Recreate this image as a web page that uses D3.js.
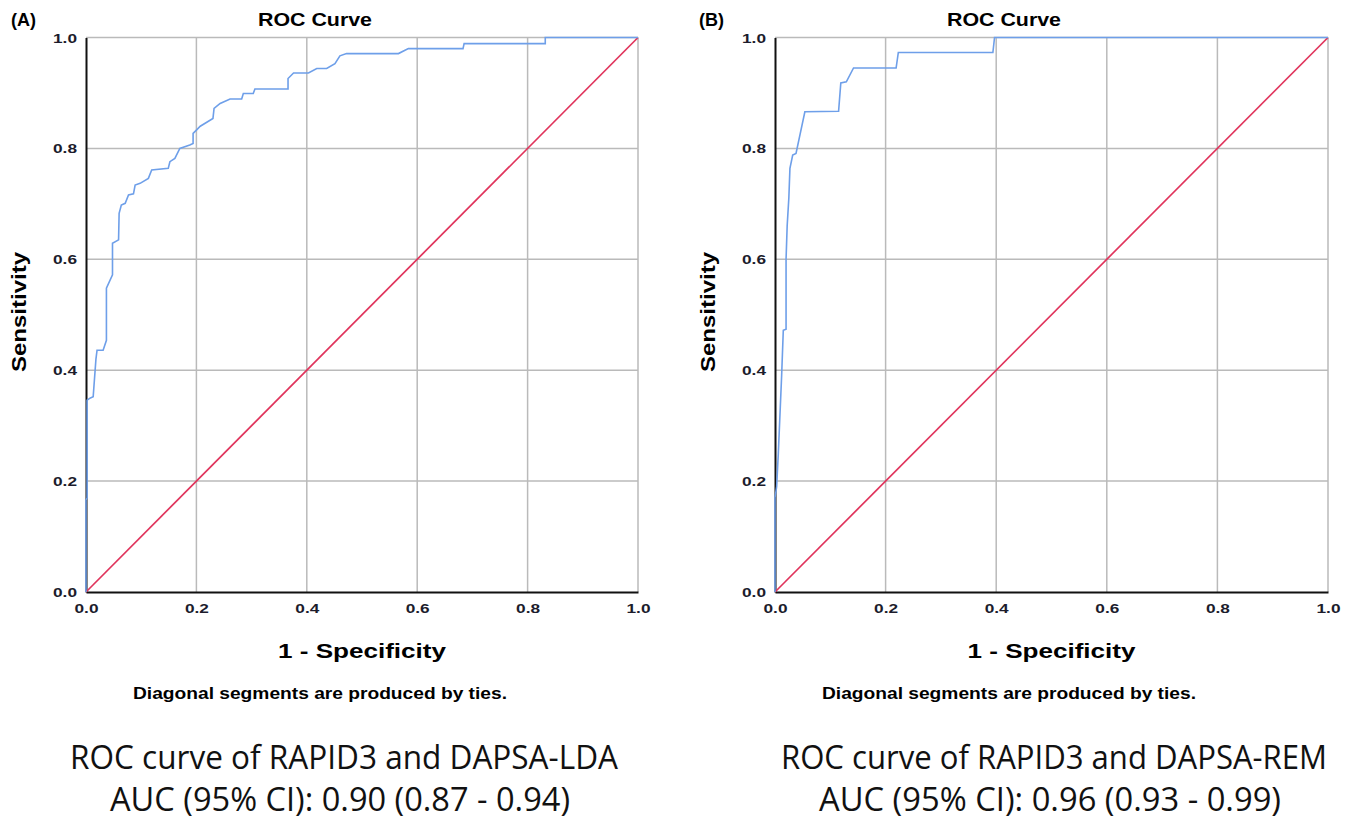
<!DOCTYPE html>
<html>
<head>
<meta charset="utf-8">
<script src="https://cdn.jsdelivr.net/npm/d3@7"></script>
<style>
  body { margin: 0; background: #fff; }
  svg { display: block; }
</style>
</head>
<body>
<div id="chart"></div>
<script>
// ROC points: 1 - specificity and sensitivity
const fprA = [0, 0, 0.002, 0.002, 0.008, 0.013, 0.018, 0.02, 0.031, 0.037, 0.037, 0.048, 0.048, 0.059, 0.06, 0.064, 0.071, 0.077, 0.086, 0.089, 0.098, 0.113, 0.119, 0.149, 0.152, 0.161, 0.17, 0.188, 0.194, 0.194, 0.2, 0.207, 0.23, 0.232, 0.243, 0.261, 0.282, 0.285, 0.303, 0.306, 0.366, 0.366, 0.376, 0.403, 0.418, 0.436, 0.451, 0.46, 0.472, 0.566, 0.584, 0.683, 0.685, 0.832, 0.832, 1];
const tprA = [0, 0.166, 0.17, 0.346, 0.35, 0.352, 0.42, 0.436, 0.436, 0.454, 0.548, 0.572, 0.629, 0.635, 0.683, 0.698, 0.701, 0.716, 0.718, 0.734, 0.737, 0.746, 0.761, 0.764, 0.776, 0.782, 0.8, 0.806, 0.809, 0.827, 0.833, 0.84, 0.854, 0.872, 0.881, 0.889, 0.889, 0.899, 0.899, 0.907, 0.907, 0.926, 0.936, 0.936, 0.944, 0.944, 0.953, 0.967, 0.971, 0.971, 0.98, 0.98, 0.989, 0.989, 1, 1];

const fprB = [0, 0, 0.003, 0.006, 0.012, 0.015, 0.02, 0.02, 0.022, 0.025, 0.027, 0.032, 0.038, 0.054, 0.115, 0.119, 0.129, 0.142, 0.219, 0.223, 0.394, 0.397, 1];
const tprB = [0, 0.17, 0.19, 0.25, 0.39, 0.472, 0.474, 0.6, 0.66, 0.71, 0.764, 0.788, 0.791, 0.866, 0.867, 0.918, 0.92, 0.945, 0.945, 0.973, 0.973, 1, 1];

const tickValues = [0, 0.2, 0.4, 0.6, 0.8, 1.0];
const panelLetters = ["(A)", "(B)"];
const captionLine1 = ["ROC curve of RAPID3 and DAPSA-LDA", "ROC curve of RAPID3 and DAPSA-REM"];
const captionLine2 = ["AUC (95% CI): 0.90 (0.87 - 0.94)", "AUC (95% CI): 0.96 (0.93 - 0.99)"];

const W = 1352, H = 821;
const svg = d3.select("#chart").append("svg").attr("width", W).attr("height", H);

const panels = [
  { left: 86, right: 638, xs: fprA, ys: tprA, letterX: 11, titleX: 315, footX: 320, cap1X: 344, cap1W: 548, cap2X: 340, cap2W: 460 },
  { left: 775, right: 1328, xs: fprB, ys: tprB, letterX: 699, titleX: 1004, footX: 1009, cap1X: 1054, cap1W: 546, cap2X: 1050, cap2W: 462 }
];
const plotTop = 37.5, plotBottom = 592;

panels.forEach(function(p, i) {
  const x = d3.scaleLinear().domain([0, 1]).range([p.left, p.right]);
  const y = d3.scaleLinear().domain([0, 1]).range([plotBottom, plotTop]);
  const g = svg.append("g");

  // grid
  g.append("g").selectAll("line").data(tickValues.slice(1)).enter().append("line")
    .attr("x1", d => x(d)).attr("x2", d => x(d)).attr("y1", plotTop).attr("y2", plotBottom)
    .attr("stroke", "#bababa").attr("stroke-width", 1.5);
  g.append("g").selectAll("line").data(tickValues.slice(1)).enter().append("line")
    .attr("x1", p.left).attr("x2", p.right).attr("y1", d => y(d)).attr("y2", d => y(d))
    .attr("stroke", "#bababa").attr("stroke-width", 1.5);

  // axes
  const xAxis = g.append("g").attr("transform", "translate(0," + plotBottom + ")")
    .call(d3.axisBottom(x).tickValues(tickValues).tickSize(0).tickPadding(12).tickFormat(d3.format(".1f")));
  const yAxis = g.append("g").attr("transform", "translate(" + p.left + ",0)")
    .call(d3.axisLeft(y).tickValues(tickValues).tickSize(0).tickPadding(9).tickFormat(d3.format(".1f")));
  [xAxis, yAxis].forEach(function(a) {
    a.select(".domain").attr("stroke", "#111").attr("stroke-width", 2);
    a.selectAll("text").attr("font-family", "Liberation Sans, Arial, sans-serif")
      .attr("font-size", 13).attr("font-weight", "bold").attr("fill", "#1c1c2c")
      .attr("textLength", 24).attr("lengthAdjust", "spacingAndGlyphs");
  });
  yAxis.selectAll("text").attr("dy", "0.35em");

  // reference diagonal
  g.append("line").attr("x1", x(0)).attr("y1", y(0)).attr("x2", x(1)).attr("y2", y(1))
    .attr("stroke", "#e0345c").attr("stroke-width", 1.7);

  // ROC curve
  const pts = p.xs.map((v, k) => [v, p.ys[k]]);
  g.append("path").datum(pts)
    .attr("d", d3.line().x(d => x(d[0])).y(d => y(d[1])))
    .attr("fill", "none").attr("stroke", "#6e9fe9").attr("stroke-width", 1.6);

  const font = "Liberation Sans, Arial, sans-serif";
  g.append("text").attr("x", p.letterX).attr("y", 26).text(panelLetters[i])
    .attr("font-family", font).attr("font-weight", "bold").attr("font-size", 18);
  g.append("text").attr("x", p.titleX).attr("y", 26).attr("text-anchor", "middle").text("ROC Curve")
    .attr("font-family", font).attr("font-weight", "bold").attr("font-size", 19)
    .attr("textLength", 114).attr("lengthAdjust", "spacingAndGlyphs");
  g.append("text").attr("transform", "translate(" + (p.left - 60) + "," + 312 + ") rotate(-90)")
    .attr("text-anchor", "middle").text("Sensitivity")
    .attr("font-family", font).attr("font-weight", "bold").attr("font-size", 20)
    .attr("textLength", 120).attr("lengthAdjust", "spacingAndGlyphs");
  g.append("text").attr("x", (p.left + p.right) / 2).attr("y", 658).attr("text-anchor", "middle")
    .text("1 - Specificity")
    .attr("font-family", font).attr("font-weight", "bold").attr("font-size", 21)
    .attr("textLength", 168).attr("lengthAdjust", "spacingAndGlyphs");
  g.append("text").attr("x", p.footX).attr("y", 699).attr("text-anchor", "middle")
    .text("Diagonal segments are produced by ties.")
    .attr("font-family", font).attr("font-weight", "bold").attr("font-size", 16)
    .attr("textLength", 374).attr("lengthAdjust", "spacingAndGlyphs");

  const capFont = "Open Sans, Noto Sans, sans-serif";
  g.append("text").attr("x", p.cap1X).attr("y", 769).attr("text-anchor", "middle").text(captionLine1[i])
    .attr("font-family", capFont).attr("font-size", 32).attr("fill", "#111")
    .attr("textLength", p.cap1W).attr("lengthAdjust", "spacingAndGlyphs");
  g.append("text").attr("x", p.cap2X).attr("y", 811).attr("text-anchor", "middle").text(captionLine2[i])
    .attr("font-family", capFont).attr("font-size", 32).attr("fill", "#111")
    .attr("textLength", p.cap2W).attr("lengthAdjust", "spacingAndGlyphs");
});
</script>
</body>
</html>
